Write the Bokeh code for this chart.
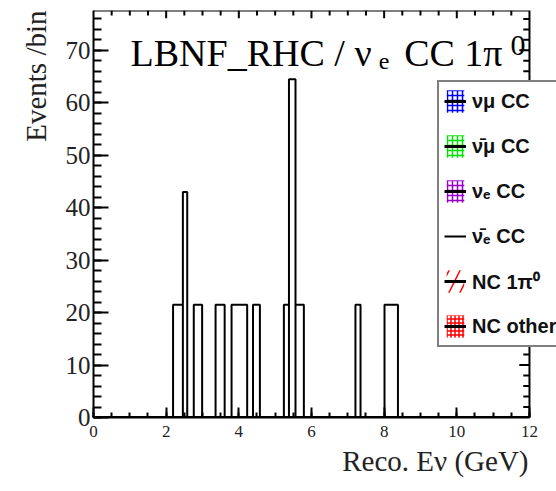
from bokeh.plotting import figure
from bokeh.models import (Label, Legend, LegendItem, Range1d,
                          SingleIntervalTicker, Title)
from bokeh.embed import file_html
from bokeh.resources import INLINE

# Reconstructed-energy bins (GeV) that hold events, with weighted counts per bin
bin_lo = [2.19, 2.46, 2.76, 3.36, 3.80, 4.39, 5.24, 5.38, 5.56, 7.21, 8.01]
bin_hi = [2.46, 2.58, 2.99, 3.61, 4.23, 4.58, 5.38, 5.56, 5.79, 7.35, 8.38]
numu_cc = [0.0] * 11
numubar_cc = [0.0] * 11
nue_cc = [0.0] * 11
nuebar_cc = [21.5, 43.0, 21.5, 21.5, 21.5, 21.5, 21.5, 64.5, 21.5, 21.5, 21.5]
nc_1pi0 = [0.0] * 11
nc_other = [0.0] * 11

x_tick_labels = ["0", "2", "4", "6", "8", "10", "12"]
E_MIN, E_MAX = 0.0, 12.0
Y_MAX = 77.6

SERIF = "Liberation Serif"
SANS = "Liberation Sans"


def step_outline(lo, hi, counts):
    """Histogram outline as a step path running over the full energy range."""
    xs, ys = [E_MIN], [0.0]
    for a, b, c in zip(lo, hi, counts):
        xs += [a, a, b, b]
        ys += [0.0, c, c, 0.0]
    xs.append(E_MAX)
    ys.append(0.0)
    return xs, ys


# The plotting area runs on past E_MAX so that the legend box can spill
# over the right-hand edge of the histogram frame.
p = figure(width=556, height=491, output_backend="svg", toolbar_location=None,
           x_range=Range1d(E_MIN, 12.744), y_range=Range1d(0, Y_MAX),
           min_border_left=93, min_border_right=0, min_border_top=10,
           min_border_bottom=74, background_fill_color="white",
           border_fill_color="white")
p.grid.visible = False
p.outline_line_color = None

p.xaxis.ticker = SingleIntervalTicker(interval=2, num_minor_ticks=4)
p.yaxis.ticker = SingleIntervalTicker(interval=10, num_minor_ticks=5)
p.xaxis.bounds = (E_MIN, E_MAX)
p.xaxis.major_label_overrides = {i * 2: t for i, t in enumerate(x_tick_labels)}


def style_axis(ax, major, minor):
    ax.axis_line_width = 2
    ax.major_tick_in = major
    ax.major_tick_out = 0
    ax.minor_tick_in = minor
    ax.minor_tick_out = 0
    ax.major_tick_line_width = 2
    ax.minor_tick_line_width = 2
    ax.major_label_text_font = SERIF
    ax.major_label_text_color = "#222222"


style_axis(p.xaxis[0], 10, 5)
style_axis(p.yaxis[0], 15, 8)
p.xaxis.major_label_text_font_size = "17px"
p.xaxis.major_label_standoff = 8
p.yaxis.major_label_text_font_size = "25px"
p.yaxis.major_label_standoff = 3

# Top and right frame edges with inward ticks
p.line([E_MIN, E_MAX, E_MAX], [Y_MAX, Y_MAX, 0], line_color="black",
       line_width=2)
y_ticks = [float(v) for v in range(2, 78, 2)]
y_tick_len = [0.28 if v % 10 == 0 else 0.17 for v in y_ticks]
p.segment(x0=[E_MAX] * len(y_ticks), x1=[E_MAX - t for t in y_tick_len],
          y0=y_ticks, y1=y_ticks, line_color="black", line_width=2)
x_ticks = [0.5 * k for k in range(1, 24)]
x_tick_len = [1.5 if k % 4 == 0 else 0.95 for k in range(1, 24)]
p.segment(x0=x_ticks, x1=x_ticks, y0=[Y_MAX] * len(x_ticks),
          y1=[Y_MAX - t for t in x_tick_len], line_color="black", line_width=2)

# Stacked components: hatched fills plus black outlines
components = [
    ("νμ CC", numu_cc, dict(hatch_pattern="+", hatch_color="blue")),
    ("ν̄μ CC", numubar_cc, dict(hatch_pattern="+", hatch_color="#00e000")),
    ("νₑ CC", nue_cc, dict(hatch_pattern="+", hatch_color="#9900cc")),
    ("ν̄ₑ CC", nuebar_cc, None),
    ("NC 1π⁰", nc_1pi0, dict(hatch_pattern="/", hatch_color="red",
                             hatch_scale=22, hatch_weight=1.5)),
    ("NC other", nc_other, dict(hatch_pattern="+", hatch_color="red",
                                hatch_scale=4)),
]

items = []
for label, counts, hatch in components:
    rends = []
    if hatch is not None:
        opts = dict(hatch_scale=5, hatch_weight=1.5)
        opts.update(hatch)
        q = p.quad(left=bin_lo, right=bin_hi, bottom=[0.0] * len(counts),
                   top=counts, fill_alpha=0, line_alpha=0, **opts)
        rends.append(q)
    sx, sy = step_outline(bin_lo, bin_hi, counts)
    ln = p.line(sx, sy, line_color="black",
                line_width=2 if hatch is None else 3)
    rends.append(ln)
    items.append(LegendItem(label=label, renderers=rends))

legend = Legend(items=items, location=(344, 70), orientation="vertical",
                border_line_color="black", border_line_width=2,
                background_fill_color="white", background_fill_alpha=1,
                glyph_width=22, glyph_height=28, label_height=28,
                label_standoff=6, spacing=17, padding=5, margin=0,
                label_text_font=SANS, label_text_font_style="bold",
                label_text_font_size="20px", label_text_color="#111111")
p.add_layout(legend, "center")

# Title inside the frame
title_parts = [
    ("LBNF_RHC / ν", 1.02, 69.5, "38px"),
    ("e", 7.85, 67.9, "24px"),
    ("CC 1π", 8.55, 69.5, "38px"),
    ("0", 11.48, 70.9, "30px"),
]
for txt, x, y, size in title_parts:
    p.add_layout(Label(x=x, y=y, text=txt, text_font=SERIF, text_font_size=size,
                       text_baseline="alphabetic", text_color="black"))

# Axis titles
p.add_layout(Title(text="Reco. Eν (GeV)", align="right", offset=28, standoff=6,
                   text_font=SERIF, text_font_size="29px",
                   text_font_style="normal", text_color="#222222"), "below")
p.add_layout(Title(text="Events /bin", align="right", standoff=21,
                   text_font=SERIF, text_font_size="29px",
                   text_font_style="normal", text_color="#222222"), "left")

open("out.html", "w").write(file_html(p, INLINE))
